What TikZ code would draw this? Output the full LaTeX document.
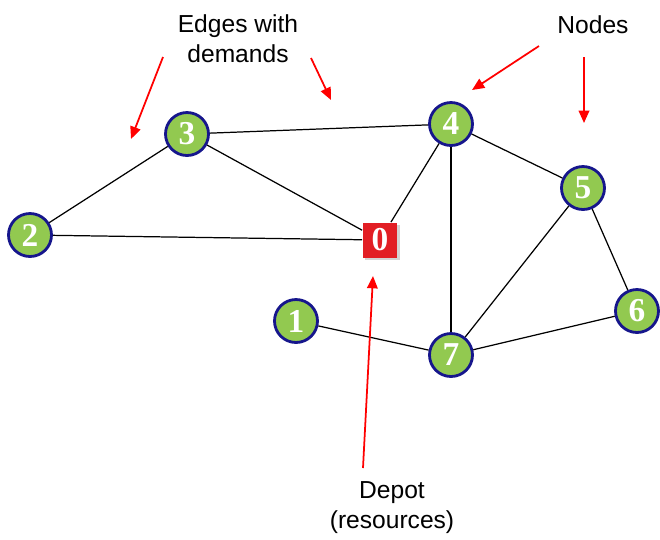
\documentclass[tikz,border=0pt]{standalone}
\usepackage{fontspec}
\setmainfont{Liberation Sans}
\newfontfamily\numfont{Liberation Serif}
\usetikzlibrary{arrows.meta,shadows}

\definecolor{leaf}{RGB}{146,201,80}
\definecolor{navy}{RGB}{22,22,140}
\definecolor{brick}{RGB}{226,30,36}

\begin{document}
\begin{tikzpicture}[x=0.02cm, y=-0.02cm,
        vertex/.style={circle, draw=navy, line width=1.6pt, fill=leaf, minimum size=0.86cm, inner sep=0pt,
            text=white, font=\numfont\bfseries\fontsize{19}{19}\selectfont},
        depot/.style={rectangle, fill=brick, minimum size=0.7cm, inner sep=0pt, text=white,
            font=\numfont\bfseries\fontsize{19}{19}\selectfont,
            drop shadow={opacity=0.35, shadow xshift=1.2pt, shadow yshift=-1.2pt}},
        note/.style={align=center, font=\fontsize{14}{17}\selectfont},
        pointer/.style={red, line width=1pt, -{Triangle[length=7pt,width=6pt]}}]
        \useasboundingbox (0,0) rectangle (660,539);

        % the network
        \node[depot]  (n0) at (380,240) {0};
        \node[vertex] (n1) at (296,321) {1};
        \node[vertex] (n2) at (30,235) {2};
        \node[vertex] (n3) at (187,134) {3};
        \node[vertex] (n4) at (451,124) {4};
        \node[vertex] (n5) at (583,188) {5};
        \node[vertex] (n6) at (637,311) {6};
        \node[vertex] (n7) at (451,355) {7};

        \draw[line width=0.7pt] (n3) -- (n4);
        \draw[line width=0.7pt] (n3) -- (n2);
        \draw[line width=0.7pt] (n3) -- (n0);
        \draw[line width=0.7pt] (n2) -- (n0);
        \draw[line width=0.7pt] (n0) -- (n4);
        \draw[line width=0.7pt] (n4) -- (n7);
        \draw[line width=0.7pt] (n4) -- (n5);
        \draw[line width=0.7pt] (n5) -- (n7);
        \draw[line width=0.7pt] (n5) -- (n6);
        \draw[line width=0.7pt] (n6) -- (n7);
        \draw[line width=0.7pt] (n1) -- (n7);

        % captions and their pointers
        \node[note] (edges) at (238,39) {Edges with\\demands};
        \node[note] (nodes) at (593,25) {Nodes};
        \node[note] (depotnote) at (392,508) {Depot\\(resources)};

        \coordinate (e1s) at (163,57);  \coordinate (e1t) at (131,139);
        \coordinate (e2s) at (311,58);  \coordinate (e2t) at (331,100);
        \coordinate (v1s) at (539,46);  \coordinate (v1t) at (472,90);
        \coordinate (v2s) at (584,57);  \coordinate (v2t) at (584,123);
        \coordinate (ds)  at (363,468); \coordinate (dt)  at (373,276);

        \draw[pointer] (e1s) -- (e1t);
        \draw[pointer] (e2s) -- (e2t);
        \draw[pointer] (v1s) -- (v1t);
        \draw[pointer] (v2s) -- (v2t);
        \draw[pointer] (ds) -- (dt);
    \end{tikzpicture}
\end{document}
